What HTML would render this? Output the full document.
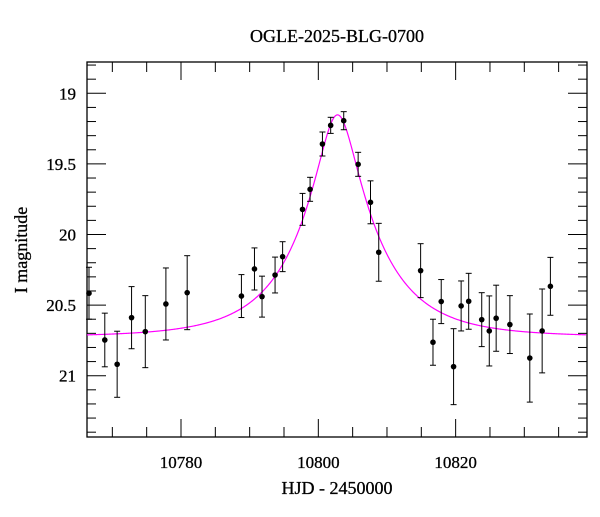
<!DOCTYPE html>
<html><head><meta charset="utf-8"><style>
body{margin:0;background:#fff}
svg text{font-family:"Liberation Serif",serif;fill:#000;stroke:#000;stroke-width:0.3}
</style></head><body>
<svg id="c" width="600" height="512" viewBox="0 0 600 512">
<text x="337" y="42" text-anchor="middle" font-size="18">OGLE-2025-BLG-0700</text>
<text x="337" y="494" text-anchor="middle" font-size="18">HJD - 2450000</text>
<text transform="translate(27,250) rotate(-90)" text-anchor="middle" font-size="18">I magnitude</text>
<g id="axes"></g><g id="model"></g><g id="pts"></g>
</svg>
<script>
const times=[10766.6,10768.9,10770.7,10772.8,10774.8,10777.8,10780.9,10788.8,10790.7,10791.8,10793.7,10794.8,10797.7,10798.8,10800.6,10801.8,10803.7,10805.8,10807.6,10808.8,10814.9,10816.7,10817.9,10819.7,10820.8,10821.9,10823.8,10824.9,10825.9,10827.9,10830.8,10832.6,10833.8];
const mags=[20.416,20.747,20.919,20.589,20.688,20.492,20.412,20.436,20.244,20.440,20.287,20.157,19.822,19.680,19.359,19.227,19.194,19.503,19.772,20.126,20.256,20.763,20.475,20.936,20.506,20.473,20.603,20.683,20.593,20.638,20.875,20.683,20.367];
const errs=[0.184,0.19,0.234,0.22,0.255,0.255,0.262,0.152,0.149,0.145,0.127,0.106,0.113,0.085,0.085,0.057,0.064,0.085,0.152,0.205,0.191,0.163,0.156,0.269,0.177,0.198,0.191,0.248,0.234,0.205,0.312,0.297,0.205];
const xTicks=[10780,10800,10820];
const yTicks=[19,19.5,20,20.5,21];
const modelT0=10802.8, modelU0=0.24, modelTE=11.3, modelBase=20.725;

const L=87,R=587,T=62,B=437;
const X=t=>181+(t-10780)*6.866;
const Y=m=>93.3+(m-19)*141.2;
const ns="http://www.w3.org/2000/svg";
function mk(tag,attrs,parent){const e=document.createElementNS(ns,tag);for(const k in attrs)e.setAttribute(k,attrs[k]);parent.appendChild(e);return e;}
const ax=document.getElementById('axes');
const fr=mk('rect',{x:L,y:T,width:R-L,height:B-T,fill:'none',stroke:'#000','stroke-width':1.3},ax);


for(let t=10770;t<=10835;t+=5){const x=X(t);const maj=xTicks.includes(t);const len=maj?18:10;
 mk('line',{x1:x,y1:B,x2:x,y2:B-len,stroke:'#000','stroke-width':1},ax);
 mk('line',{x1:x,y1:T,x2:x,y2:T+len,stroke:'#000','stroke-width':1},ax);}
xTicks.forEach(t=>{const e=mk('text',{x:X(t),y:468,'text-anchor':'middle','font-size':17},ax);e.textContent=t;
 
 });
for(let i=0;i<=26;i++){const m=18.8+i*0.1;const y=Y(m);if(y<T+1||y>B-1)continue;const maj=Math.abs(m*2-Math.round(m*2))<1e-6;const len=maj?19:9;
 mk('line',{x1:L,y1:y,x2:L+len,y2:y,stroke:'#000','stroke-width':1},ax);
 mk('line',{x1:R,y1:y,x2:R-len,y2:y,stroke:'#000','stroke-width':1},ax);}
yTicks.forEach(m=>{const e=mk('text',{x:76,y:Y(m)+6,'text-anchor':'end','font-size':17},ax);e.textContent=m;
 
 });
function A(u){return (u*u+2)/(u*Math.sqrt(u*u+4));}
let d='';for(let t=10766.3;t<=10839.1;t+=0.1){const u=Math.sqrt(modelU0*modelU0+((t-modelT0)/modelTE)**2);const m=modelBase-2.5*Math.log10(A(u));d+=(d?'L':'M')+X(t).toFixed(2)+','+Y(m).toFixed(2);}
const mp=mk('path',{d:d,fill:'none',stroke:'#ff00ff','stroke-width':1.2},document.getElementById('model'));


const pg=document.getElementById('pts');
times.forEach((t,i)=>{const x=X(t),y=Y(mags[i]),y1=Y(mags[i]-errs[i]),y2=Y(mags[i]+errs[i]);
 const g=mk('g',{},pg);
 
 
 mk('line',{x1:x,y1:y1,x2:x,y2:y2,stroke:'#000','stroke-width':1},g);
 mk('line',{x1:x-3,y1:y1,x2:x+3,y2:y1,stroke:'#000','stroke-width':1},g);
 mk('line',{x1:x-3,y1:y2,x2:x+3,y2:y2,stroke:'#000','stroke-width':1},g);
 mk('circle',{cx:x,cy:y,r:2.8,fill:'#000'},g);});
</script>
</body></html>
